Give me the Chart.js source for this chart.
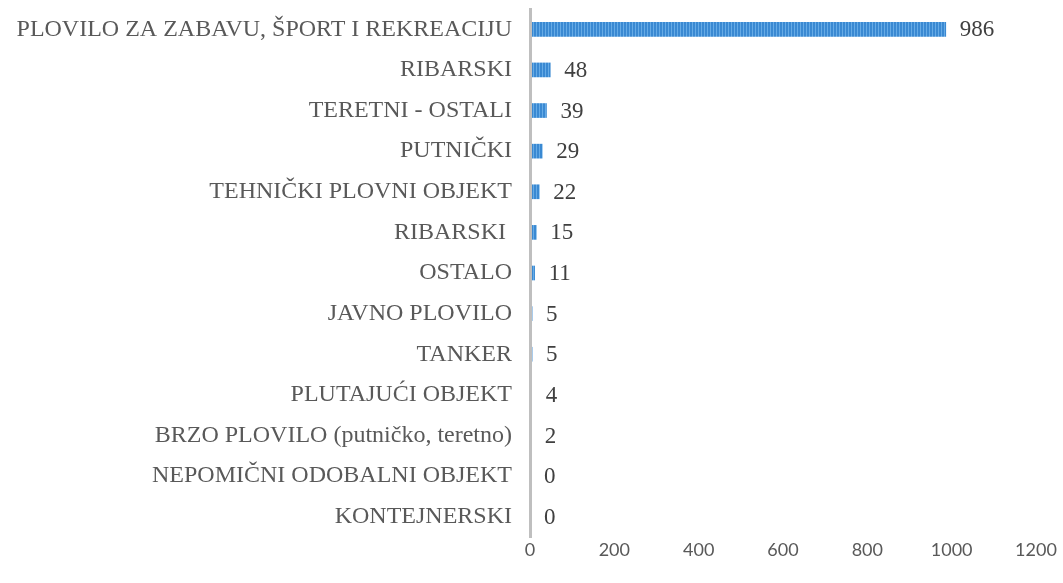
<!DOCTYPE html>
<html>
<head>
<meta charset="utf-8">
<script src="https://cdn.jsdelivr.net/npm/chart.js@4/dist/chart.umd.min.js"></script>
<style>
  html, body { margin: 0; padding: 0; background: #ffffff; }
  #wrap { width: 1063px; height: 583px; position: relative; }
</style>
</head>
<body>
<div id="wrap"><canvas id="c" width="1063" height="583"></canvas></div>
<script>
const categories = [
  "PLOVILO ZA ZABAVU, ŠPORT I REKREACIJU",
  "RIBARSKI",
  "TERETNI - OSTALI",
  "PUTNIČKI",
  "TEHNIČKI PLOVNI OBJEKT",
  "RIBARSKI ",
  "OSTALO",
  "JAVNO PLOVILO",
  "TANKER",
  "PLUTAJUĆI OBJEKT",
  "BRZO PLOVILO (putničko, teretno)",
  "NEPOMIČNI ODOBALNI OBJEKT",
  "KONTEJNERSKI"
];
const values = [986, 48, 39, 29, 22, 15, 11, 5, 5, 4, 2, 0, 0];
const xTicks = [0, 200, 400, 600, 800, 1000, 1200];

function stripePattern() {
  const p = document.createElement('canvas');
  p.width = 3; p.height = 4;
  const g = p.getContext('2d');
  g.fillStyle = '#3a89d2';
  g.fillRect(0, 0, 3, 4);
  g.fillStyle = '#66abe6';
  g.fillRect(2, 0, 1, 4);
  return document.getElementById('c').getContext('2d').createPattern(p, 'repeat');
}

const valueLabels = {
  id: 'valueLabels',
  afterDatasetsDraw(chart) {
    const ctx = chart.ctx;
    const meta = chart.getDatasetMeta(0);
    ctx.save();
    ctx.font = '23px "Liberation Serif", "Times New Roman", serif';
    ctx.fillStyle = '#404040';
    ctx.textAlign = 'left';
    ctx.textBaseline = 'middle';
    meta.data.forEach((bar, i) => {
      ctx.fillText(String(values[i]), bar.x + 14, bar.y + 1);
    });
    ctx.restore();
  }
};

new Chart(document.getElementById('c'), {
  type: 'bar',
  data: {
    labels: categories,
    datasets: [{
      data: values,
      backgroundColor: stripePattern(),
      borderWidth: 0,
      barThickness: 14
    }]
  },
  options: {
    indexAxis: 'y',
    responsive: false,
    animation: false,
    layout: { padding: { top: 9, right: 27, bottom: 0, left: 0 } },
    plugins: { legend: { display: false }, tooltip: { enabled: false } },
    scales: {
      x: {
        min: 0, max: 1200,
        afterBuildTicks(scale) { scale.ticks = xTicks.map(v => ({ value: v })); },
        grid: { display: false, drawTicks: false },
        border: { display: false },
        ticks: {
          padding: 2,
          color: '#595959',
          font: { family: 'Lato, "Liberation Sans", sans-serif', size: 18 },
          callback: (v) => String(v)
        },
        afterFit(scale) { scale.height = 46; scale.paddingLeft = 0; scale.paddingRight = 0; }
      },
      y: {
        grid: { display: false, drawTicks: false },
        border: { display: true, color: '#bfbfbf', width: 3, z: 1 },
        ticks: {
          padding: 18,
          color: '#595959',
          font: { family: '"Liberation Serif", "Times New Roman", serif', size: 24 }
        },
        afterFit(scale) { scale.width = 530; scale.paddingTop = 0; scale.paddingBottom = 0; }
      }
    }
  },
  plugins: [valueLabels]
});
</script>
</body>
</html>
